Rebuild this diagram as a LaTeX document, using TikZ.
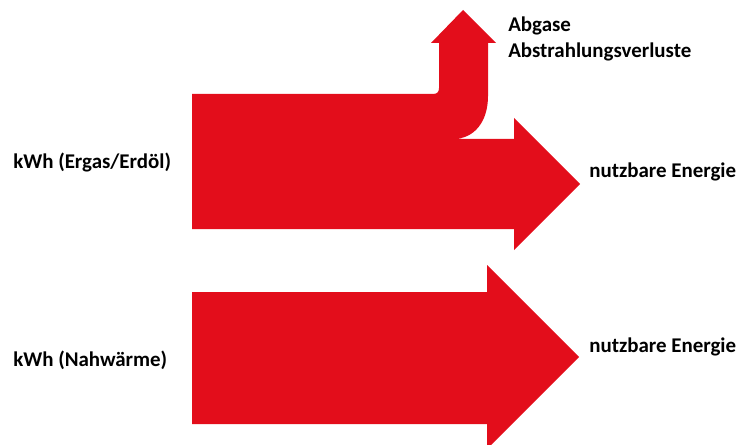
\documentclass[tikz,border=0pt]{standalone}
\usepackage{fontspec}
\setmainfont{Carlito}
\usepackage{tikz}
\usetikzlibrary{positioning}
\definecolor{flowred}{RGB}{227,13,27}
\tikzset{
  flow/.style={fill=flowred,draw=none},
  lbl/.style={font=\bfseries\fontsize{15.7}{19.5}\selectfont,anchor=west,
             inner sep=0pt,align=left},
}

\begin{document}
\begin{tikzpicture}[x=0.75pt,y=-0.75pt]
  \useasboundingbox (0,0) rectangle (737,445);
  % oil / gas: split arrow
  \fill[flow] (192,94) -- (433,94) .. controls (437,94) and (439,92) .. (439,88)
    -- (439,43) -- (431,43) -- (463,10) -- (496,43) -- (488,43) -- (488,96)
    .. controls (488,122) and (474,139) .. (453,139) -- (514,139) -- (514,118)
    -- (580,184) -- (514,250) -- (514,229) -- (192,229) -- cycle;
  % district heat
  \fill[flow] (192,292) -- (487,292) -- (487,265) -- (579,357) -- (487,449)
    -- (487,424) -- (192,424) -- cycle;
  \node[lbl] (oil)  at (13,163) {kWh (Ergas/Erdöl)};
  \node[lbl] (heat) at (13,360) {kWh (Nahwärme)};
  \node[lbl] (loss) at (508,39) {Abgase\\Abstrahlungsverluste};
  \node[lbl] (use1) at (589,172) {nutzbare Energie};
  \node[lbl] (use2) at (589,347) {nutzbare Energie};
\end{tikzpicture}
\end{document}
